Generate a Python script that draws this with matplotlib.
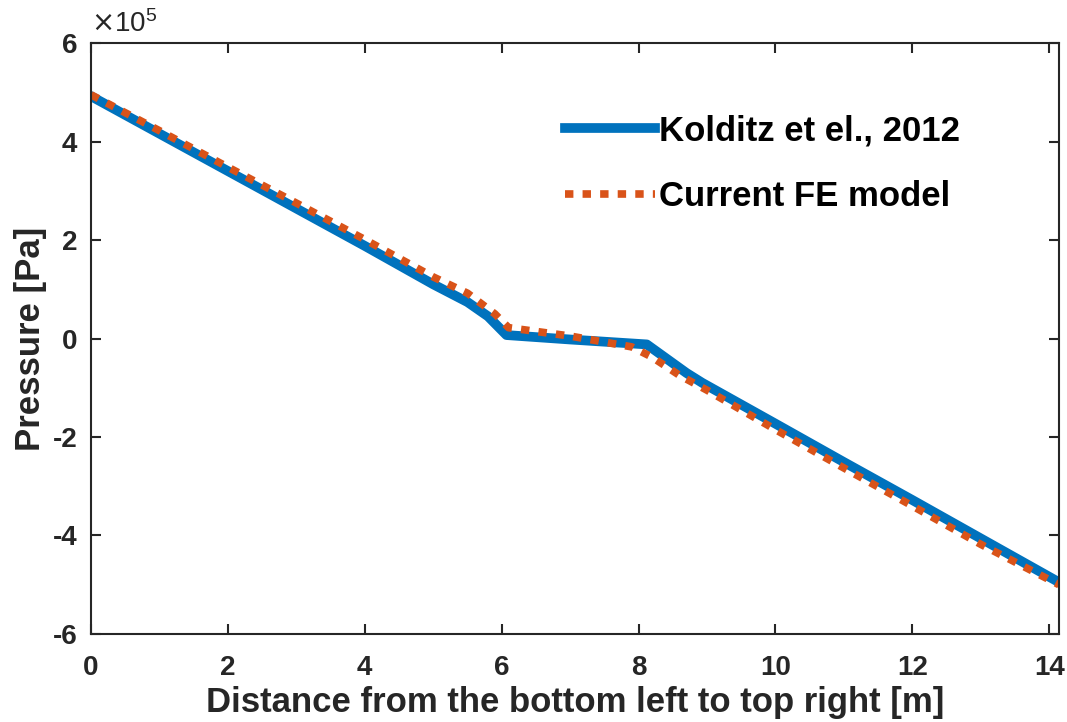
import numpy as np
import matplotlib
matplotlib.use('Agg')
import matplotlib.pyplot as plt
from matplotlib.ticker import FuncFormatter

# Kolditz et el., 2012 (reference solution)
x_ref = [0, 1, 2, 3, 4, 5, 5.5, 5.8, 6.07, 7.0, 8.12, 8.4, 8.7, 8.93, 10, 11, 12, 13, 14.142]
p_ref = [4.92e5, 4.16e5, 3.40e5, 2.64e5, 1.88e5, 1.10e5, 0.74e5, 0.45e5, 0.07e5, -0.02e5,
         -0.12e5, -0.40e5, -0.70e5, -0.90e5, -1.73e5, -2.51e5, -3.28e5, -4.06e5, -4.95e5]

# Current FE model
x_fe = [0, 1, 2, 3, 4, 5, 5.5, 5.9, 6.1, 7.0, 7.9, 8.2, 8.6, 9, 10, 11, 12, 13, 14.142]
p_fe = [4.95e5, 4.22e5, 3.48e5, 2.75e5, 2.01e5, 1.25e5, 0.92e5, 0.50e5, 0.22e5, 0.05e5,
        -0.17e5, -0.38e5, -0.75e5, -1.05e5, -1.85e5, -2.63e5, -3.40e5, -4.18e5, -5.00e5]

plt.rcParams['font.family'] = ['Liberation Sans', 'DejaVu Sans']

fig = plt.figure(figsize=(10.67, 7.22), dpi=100)
ax = fig.add_axes([0.0853, 0.1219, 0.9072, 0.8185])

ax.plot(x_ref, p_ref, color='#0072BD', linewidth=7, label='Kolditz et el., 2012', solid_joinstyle='round')
ax.plot(x_fe, p_fe, color='#D95319', linewidth=5.5, linestyle=(0, (1.1, 1.2)), label='Current FE model')

ax.set_xlim(0, 14.142)
ax.set_ylim(-6e5, 6e5)
ax.set_xticks(np.arange(0, 15, 2))
ax.set_yticks(np.arange(-6e5, 6.1e5, 2e5))
ax.yaxis.set_major_formatter(FuncFormatter(lambda v, pos: '%d' % round(v / 1e5)))

ax.tick_params(direction='in', top=True, right=True, length=7, width=1.5,
               labelsize=20, colors='#262626')
ax.tick_params(axis='x', pad=15)
ax.tick_params(axis='y', pad=10)
for lbl in ax.get_xticklabels() + ax.get_yticklabels():
    lbl.set_fontweight('bold')
for s in ax.spines.values():
    s.set_linewidth(1.5)
    s.set_color('#262626')

ax.set_xlabel('Distance from the bottom left to top right [m]', fontsize=25, fontweight='bold',
              color='#262626', labelpad=4)
ax.set_ylabel('Pressure [Pa]', fontsize=25, fontweight='bold', color='#262626', labelpad=4)
ax.text(0.0, 1.008, r'$\times\mathregular{10^5}$', transform=ax.transAxes, fontsize=20,
        color='#262626', ha='left', va='bottom')

leg = ax.legend(loc='center left', bbox_to_anchor=(0.4897, 0.796), frameon=False, fontsize=25,
                handlelength=2.6, labelspacing=0.95, handletextpad=0.12,
                borderpad=0, borderaxespad=0)
for t in leg.get_texts():
    t.set_fontweight('bold')

fig.savefig('out.png', dpi=100)
